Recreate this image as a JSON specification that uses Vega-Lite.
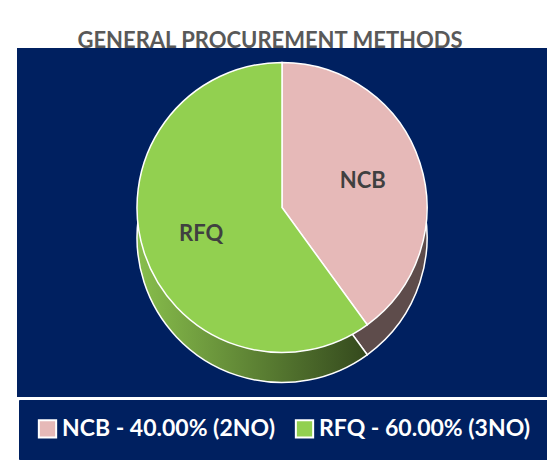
{
  "$schema": "https://vega.github.io/schema/vega-lite/v6.json",
  "width": 530,
  "height": 349,
  "autosize": {"type": "none"},
  "padding": {"left": 17, "top": 48, "right": 0, "bottom": 69},
  "background": "#FFFFFF",
  "view": {"fill": "#002060", "fillOpacity": 1, "stroke": null},
  "title": {
    "text": "GENERAL PROCUREMENT METHODS",
    "font": "Lato",
    "fontSize": 22,
    "fontWeight": "bold",
    "color": "#595959",
    "anchor": "middle",
    "offset": -5,
    "dx": -12
  },
  "data": {
    "values": [
      {"method": "NCB", "share": 40, "count": 2, "legend": "NCB - 40.00% (2NO)"},
      {"method": "RFQ", "share": 60, "count": 3, "legend": "RFQ - 60.00% (3NO)"}
    ]
  },
  "layer": [
    {
      "mark": {"type": "arc", "outerRadius": 145, "yOffset": 15, "stroke": "#FFFFFF", "strokeWidth": 1.5},
      "encoding": {
        "theta": {"field": "share", "type": "quantitative", "stack": true},
        "order": {"field": "method", "type": "nominal"},
        "color": {
          "condition": {"test": "datum.method === 'NCB'", "value": "#5E4C4B"},
          "value": {
            "gradient": "linear", "x1": 0, "x2": 1, "y1": 0, "y2": 0,
            "stops": [{"offset": 0, "color": "#88BE4C"}, {"offset": 1, "color": "#34491D"}]
          }
        }
      }
    },
    {
      "mark": {"type": "arc", "outerRadius": 145, "yOffset": -15, "stroke": "#FFFFFF", "strokeWidth": 1.5},
      "encoding": {
        "theta": {"field": "share", "type": "quantitative", "stack": true},
        "order": {"field": "method", "type": "nominal"},
        "color": {
          "field": "legend",
          "type": "nominal",
          "scale": {"range": ["#E6B9B8", "#92D050"]},
          "legend": {
            "orient": "none",
            "legendX": 2,
            "legendY": 352,
            "direction": "horizontal",
            "title": null,
            "fillColor": "#002060",
            "strokeColor": "#002060",
            "padding": 17,
            "labelFont": "Lato",
            "labelFontSize": 23,
            "labelFontWeight": "bold",
            "labelColor": "#FFFFFF",
            "labelLimit": 400,
            "labelOffset": 3,
            "columnPadding": 16,
            "symbolType": "square",
            "symbolSize": 300,
            "symbolStrokeColor": "#FFFFFF",
            "symbolStrokeWidth": 2,
            "symbolOpacity": 1
          }
        }
      }
    },
    {
      "mark": {"type": "text", "radius": 85, "yOffset": -15, "font": "Lato", "fontSize": 22, "fontWeight": "bold", "color": "#404040"},
      "encoding": {
        "theta": {"field": "share", "type": "quantitative", "stack": true},
        "order": {"field": "method", "type": "nominal"},
        "text": {"field": "method", "type": "nominal"}
      }
    }
  ]
}
